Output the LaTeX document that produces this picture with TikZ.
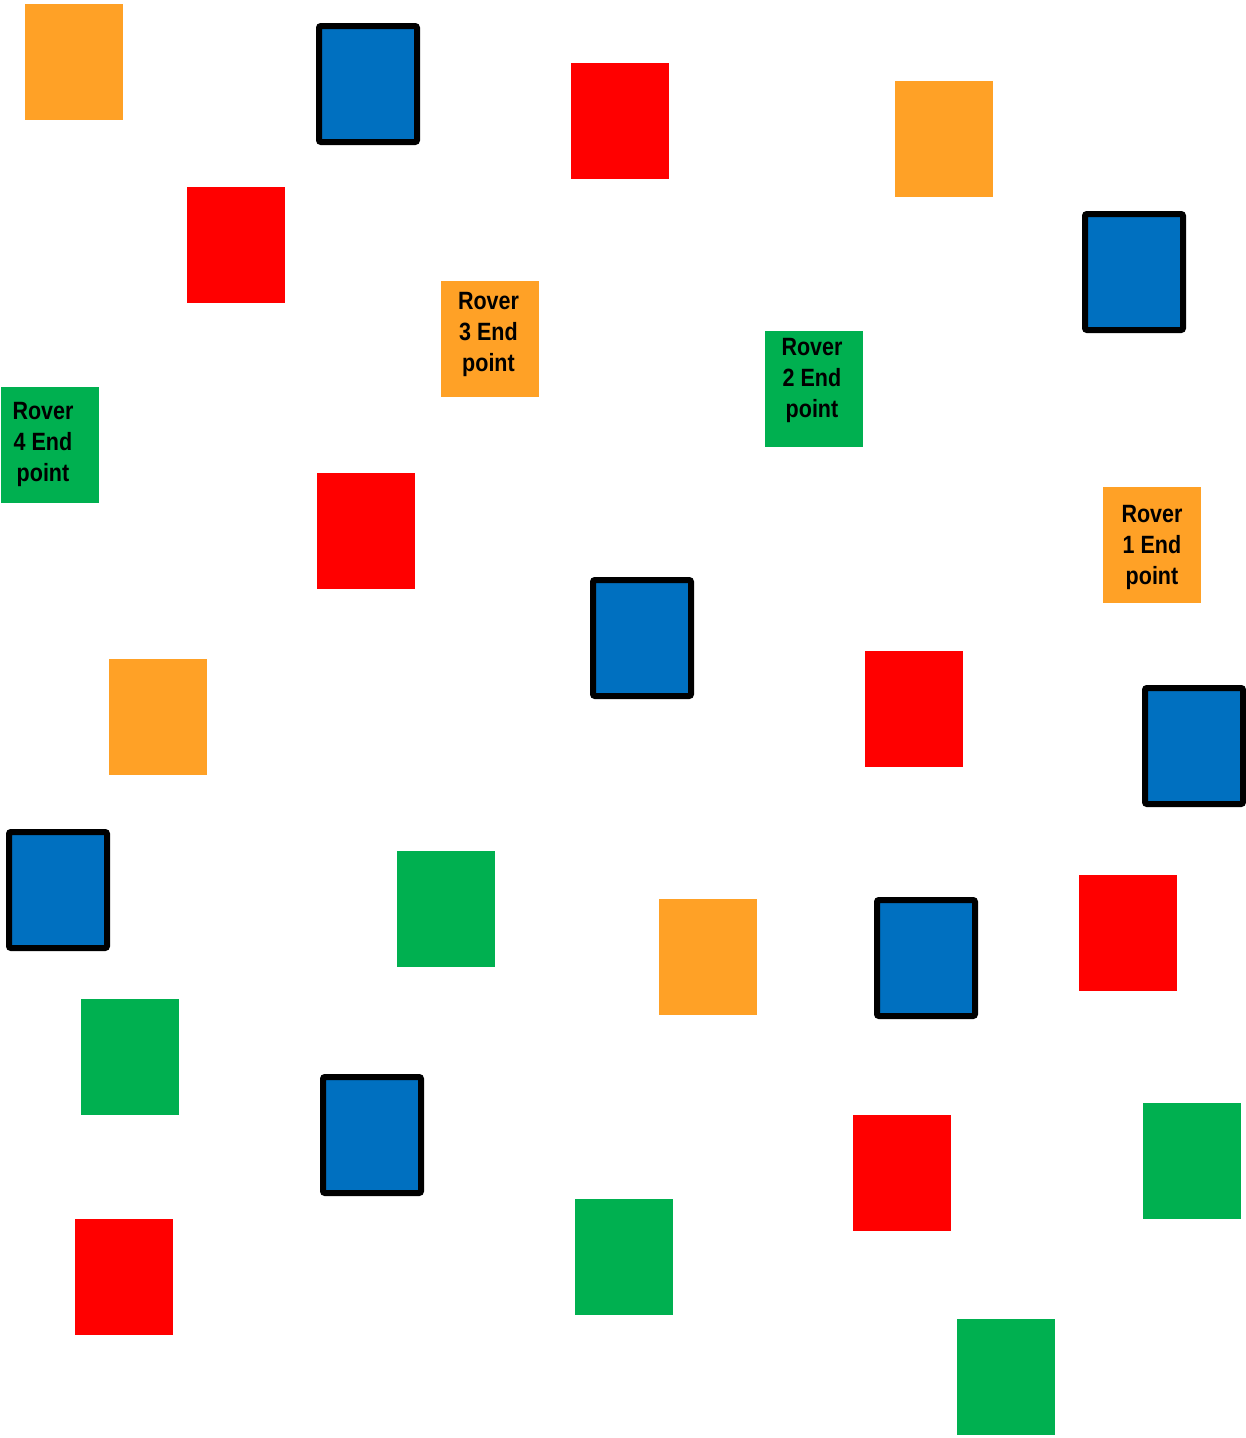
\documentclass[tikz,border=0pt]{standalone}
\usepackage{fontspec}
\setmainfont{Liberation Sans}
\newfontfamily\labelfont[FakeStretch=0.86]{Liberation Sans}
\definecolor{cOrange}{HTML}{FFA126}
\definecolor{cRed}{HTML}{FF0000}
\definecolor{cBlue}{HTML}{0070C0}
\definecolor{cGreen}{HTML}{00B050}
\begin{document}
\begin{tikzpicture}[x=1pt,y=-1pt,
  tile/.style={minimum width=98pt,minimum height=116pt,inner sep=0pt,outer sep=0pt,anchor=north west},
  orangebox/.style={tile,fill=cOrange},
  redbox/.style={tile,fill=cRed},
  greenbox/.style={tile,fill=cGreen},
  bluebox/.style={tile,fill=cBlue,draw=black,line width=6pt,rounded corners=2pt},
  tilelabel/.style={inner sep=0pt,align=center,font=\labelfont\fontsize{25}{31}\selectfont\bfseries}]
\useasboundingbox (0,0) rectangle (1246,1438);
% orange
\node[orangebox] (o1) at (25,4) {};
\node[orangebox] (o2) at (895,81) {};
\node[orangebox] (o3) at (109,659) {};
\node[orangebox] (o4) at (659,899) {};
\node[orangebox] (r3) at (441,281) {};
\node[orangebox] (r1) at (1103,487) {};
% red
\node[redbox] (d1) at (571,63) {};
\node[redbox] (d2) at (187,187) {};
\node[redbox] (d3) at (317,473) {};
\node[redbox] (d4) at (865,651) {};
\node[redbox] (d5) at (1079,875) {};
\node[redbox] (d6) at (853,1115) {};
\node[redbox] (d7) at (75,1219) {};
% green
\node[greenbox] (r4) at (1,387) {};
\node[greenbox] (r2) at (765,331) {};
\node[greenbox] (g1) at (397,851) {};
\node[greenbox] (g2) at (81,999) {};
\node[greenbox] (g3) at (575,1199) {};
\node[greenbox] (g4) at (1143,1103) {};
\node[greenbox] (g5) at (957,1319) {};
% blue
\node[bluebox] (b1) at (319,26) {};
\node[bluebox] (b2) at (1085,214) {};
\node[bluebox] (b3) at (593,580) {};
\node[bluebox] (b4) at (1145,688) {};
\node[bluebox] (b5) at (9,832) {};
\node[bluebox] (b6) at (877,900) {};
\node[bluebox] (b7) at (323,1077) {};
% labels
\node[tilelabel,xshift=-1.5pt,yshift=5pt] (t3) at (r3.center) {Rover\\3 End\\point};
\node[tilelabel,xshift=0pt,yshift=-2pt] (t1) at (r1.center) {Rover\\1 End\\point};
\node[tilelabel,xshift=-2pt,yshift=9pt] (t2) at (r2.center) {Rover\\2 End\\point};
\node[tilelabel,xshift=-7pt,yshift=1pt] (t4) at (r4.center) {Rover\\4 End\\point};
\end{tikzpicture}
\end{document}
